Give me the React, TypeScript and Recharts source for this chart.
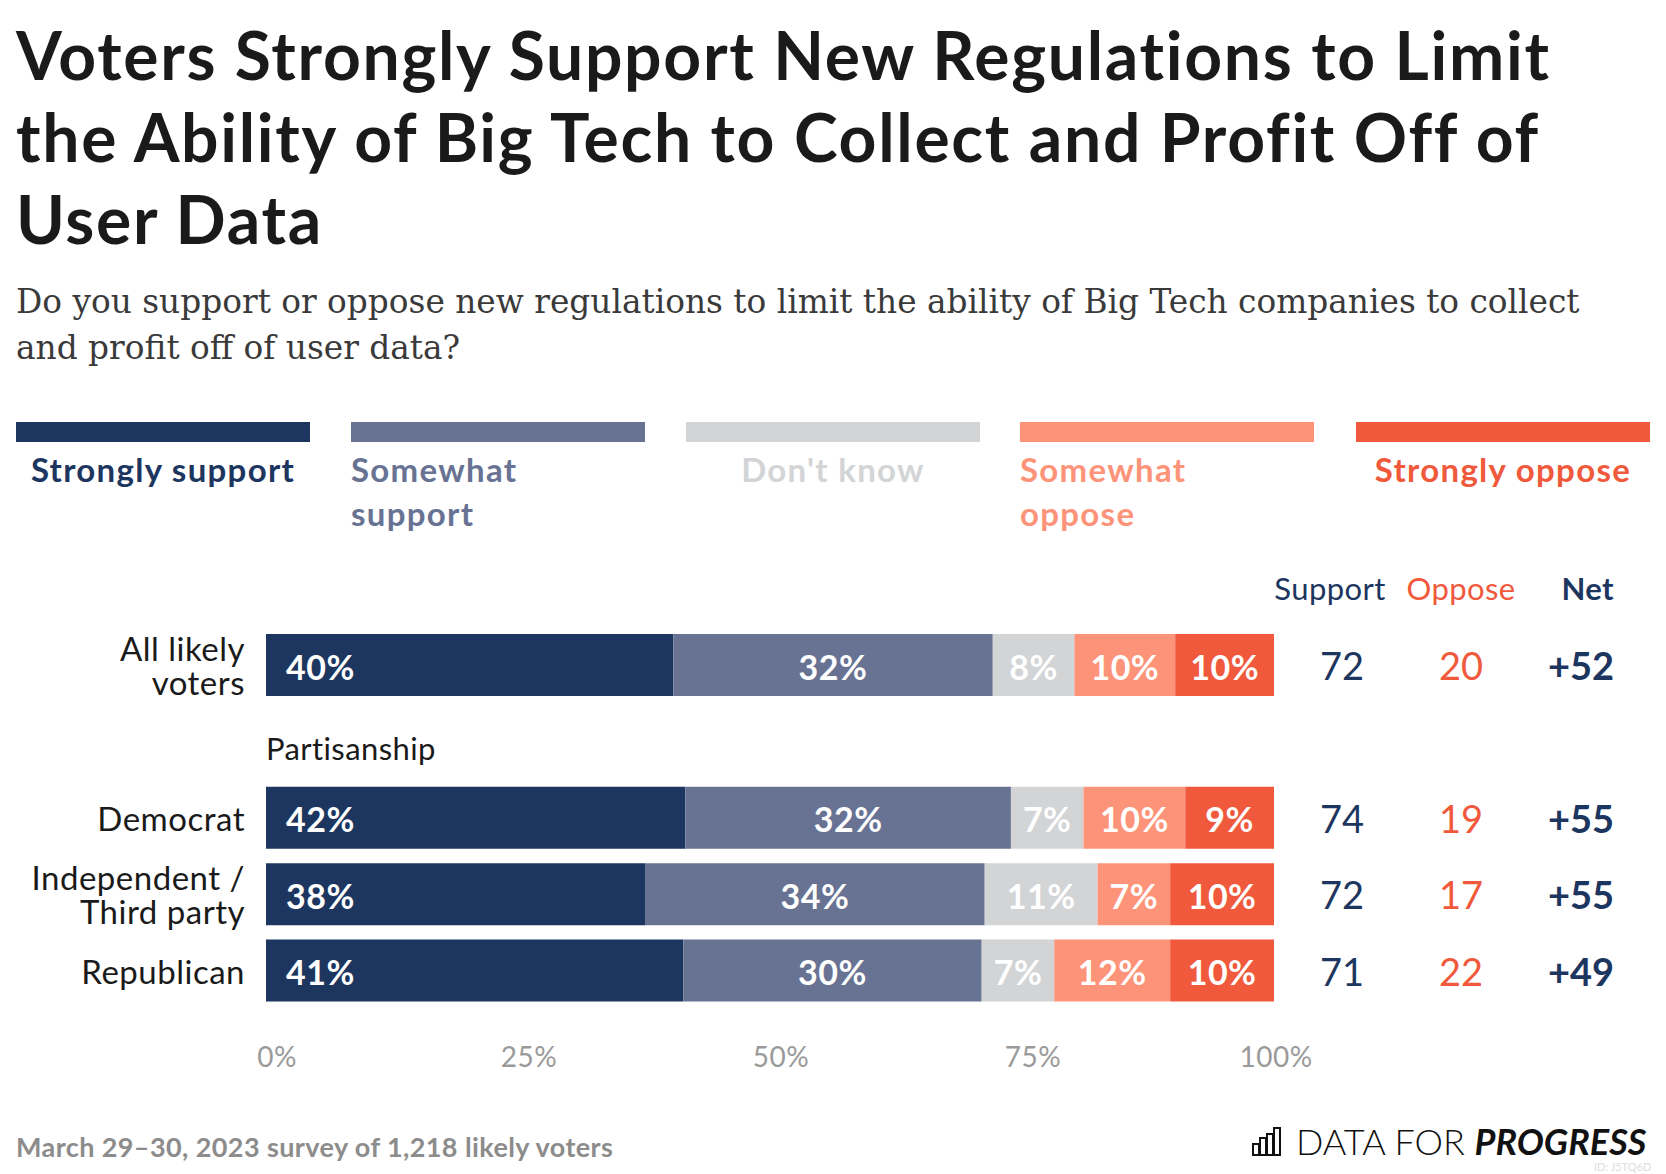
import React from 'react';
import { BarChart, Bar, XAxis, YAxis, LabelList } from 'recharts';

const categories = ['All likely voters', 'Partisanship', 'Democrat', 'Independent / Third party', 'Republican'];
const seriesNames = ['Strongly support', 'Somewhat support', "Don't know", 'Somewhat oppose', 'Strongly oppose'];
const seriesColors = ['#1d365f', '#687394', '#d3d4d6', '#fd9378', '#f0593c'];
const stronglySupport = [40.4, null, 41.6, 37.6, 41.4];
const somewhatSupport = [31.7, null, 32.3, 33.7, 29.6];
const dontKnow = [8.1, null, 7.2, 11.2, 7.2];
const somewhatOppose = [10.0, null, 10.1, 7.2, 11.5];
const stronglyOppose = [9.8, null, 8.8, 10.3, 10.3];
const supportTotals = [72, null, 74, 72, 71];
const opposeTotals = [20, null, 19, 17, 22];
const netValues = ['+52', '', '+55', '+55', '+49'];
const xTicks = [0, 25, 50, 75, 100];
const groupHeaders = ['Partisanship'];
// legend labels that break onto two lines in the original
const wrappedLegend = ['Somewhat support', 'Somewhat oppose'];

const seriesValues = [stronglySupport, somewhatSupport, dontKnow, somewhatOppose, stronglyOppose];
const data = categories.map((name, i) => {
  const row: any = { name };
  seriesValues.forEach((vals, s) => { row['s' + s] = vals[i]; });
  return row;
});

const FONT = 'Lato, "Open Sans", sans-serif';
const W = 1666;
const H = 1174;
const PLOT_LEFT = 266;
const PLOT_RIGHT = 1274;
const PLOT_TOP = 627;
const PLOT_BOTTOM = 1009;

const wrap = (text: string, max: number) => {
  const lines: string[] = [];
  let cur = '';
  text.split(' ').forEach((w) => {
    if (cur && (cur + ' ' + w).length > max) { lines.push(cur); cur = w; }
    else cur = cur ? cur + ' ' + w : w;
  });
  if (cur) lines.push(cur);
  return lines;
};

const LeftTick = (props: any) => {
  const { y, payload } = props;
  const label = String(payload.value);
  if (groupHeaders.includes(label)) {
    return (
      <text x={PLOT_LEFT} y={y + 6} fontSize={31} letterSpacing={0.4} fill="#1a1a1a" fontFamily={FONT} textAnchor="start" dominantBaseline="central">
        {label}
      </text>
    );
  }
  const lines = wrap(label, 13);
  const lh = 34;
  const start = y - ((lines.length - 1) * lh) / 2;
  return (
    <text x={PLOT_LEFT - 21} fontSize={33} letterSpacing={0.5} fill="#1a1a1a" fontFamily={FONT} textAnchor="end" dominantBaseline="central">
      {lines.map((l, i) => (
        <tspan key={i} x={PLOT_LEFT - 21} y={start + i * lh}>{l}</tspan>
      ))}
    </text>
  );
};

const RightTick = (props: any) => {
  const { y, payload } = props;
  const i = payload.index;
  if (supportTotals[i] == null) return <g />;
  return (
    <g fontFamily={FONT} fontSize={38}>
      <text x={PLOT_RIGHT + 68} y={y} fill="#1d365f" textAnchor="middle" dominantBaseline="central">{supportTotals[i]}</text>
      <text x={PLOT_RIGHT + 187} y={y} fill="#f0593c" textAnchor="middle" dominantBaseline="central">{opposeTotals[i]}</text>
      <text x={PLOT_RIGHT + 340} y={y} fill="#1d365f" fontWeight={700} textAnchor="end" dominantBaseline="central">{netValues[i]}</text>
    </g>
  );
};

const BottomTick = (props: any) => {
  const { x, y, payload } = props;
  const shift = payload.value === 100 ? 2 : 11;
  return (
    <text x={x + shift} y={y + 39} fontSize={28} letterSpacing={0.5} fill="#9a9a9a" fontFamily={FONT} textAnchor="middle" dominantBaseline="central">
      {payload.value + '%'}
    </text>
  );
};

const makeLabel = (first: boolean) => (props: any) => {
  const { x, y, width, height, value } = props;
  if (value == null) return null;
  return (
    <text
      x={first ? x + 20 : x + width / 2}
      y={y + height / 2 + 1}
      fill="#fff"
      fontSize={34}
      fontWeight={700}
      letterSpacing={0.5}
      fontFamily={FONT}
      textAnchor={first ? 'start' : 'middle'}
      dominantBaseline="central"
    >
      {Math.round(value) + '%'}
    </text>
  );
};

const LEGEND_X = [16, 351, 686, 1020, 1356];
const LEGEND_W = 294;

export default function App() {
  return (
    <div style={{ position: 'absolute', left: 0, top: 0, width: W, height: H, background: '#fff', fontFamily: FONT, overflow: 'hidden' }}>
      <div style={{ position: 'absolute', left: 16, top: 14, fontSize: 66, fontWeight: 700, letterSpacing: 1.7, lineHeight: '82px', color: '#1a1a1a', whiteSpace: 'nowrap' }}>
        <div>Voters Strongly Support New Regulations to Limit</div>
        <div>the Ability of Big Tech to Collect and Profit Off of</div>
        <div>User Data</div>
      </div>
      <div style={{ position: 'absolute', left: 16, top: 279, fontSize: 32.8, lineHeight: '46px', color: '#3a3a3a', fontFamily: '"DejaVu Serif", serif', whiteSpace: 'nowrap' }}>
        <div>Do you support or oppose new regulations to limit the ability of Big Tech companies to collect</div>
        <div>and profit off of user data?</div>
      </div>
      {seriesNames.map((n, i) => {
        const wrapped = wrappedLegend.includes(n);
        return (
          <div key={n} style={{ position: 'absolute', left: LEGEND_X[i], top: 422, width: LEGEND_W }}>
            <div style={{ height: 20, background: seriesColors[i] }} />
            <div style={{ marginTop: 5, fontSize: 33, fontWeight: 700, letterSpacing: 1.3, lineHeight: '44px', color: seriesColors[i], textAlign: wrapped ? 'left' : 'center', whiteSpace: 'pre-line' }}>
              {wrapped ? n.replace(' ', '\n') : n}
            </div>
          </div>
        );
      })}
      <div style={{ position: 'absolute', top: 569, left: PLOT_RIGHT, width: 392, height: 40, fontSize: 31, letterSpacing: 0.4 }}>
        <div style={{ position: 'absolute', left: 56, width: 0, display: 'flex', justifyContent: 'center', color: '#1d365f' }}><span>Support</span></div>
        <div style={{ position: 'absolute', left: 187, width: 0, display: 'flex', justifyContent: 'center', color: '#f0593c' }}><span>Oppose</span></div>
        <div style={{ position: 'absolute', right: 52, color: '#1d365f', fontWeight: 700 }}>Net</div>
      </div>
      <div style={{ position: 'absolute', left: 0, top: 0 }}>
        <BarChart
          width={W}
          height={H}
          data={data}
          layout="vertical"
          barSize={62}
          margin={{ top: PLOT_TOP, right: 0, bottom: H - PLOT_BOTTOM - 40, left: 16 }}
        >
          <XAxis type="number" domain={[0, 100]} ticks={xTicks} axisLine={false} tickLine={false} tick={<BottomTick />} height={40} interval={0} />
          <YAxis yAxisId="left" type="category" dataKey="name" width={PLOT_LEFT - 16} axisLine={false} tickLine={false} tick={<LeftTick />} interval={0} />
          <YAxis yAxisId="right" orientation="right" type="category" dataKey="name" width={W - PLOT_RIGHT} axisLine={false} tickLine={false} tick={<RightTick />} interval={0} />
          {seriesNames.map((n, i) => (
            <Bar key={n} yAxisId="left" dataKey={'s' + i} name={n} stackId="a" fill={seriesColors[i]} isAnimationActive={false}>
              <LabelList dataKey={'s' + i} content={makeLabel(i === 0)} />
            </Bar>
          ))}
        </BarChart>
      </div>
      <div style={{ position: 'absolute', left: 16, top: 1130, fontSize: 27, fontWeight: 700, letterSpacing: 0.4, color: '#8c8c8c' }}>
        March 29–30, 2023 survey of 1,218 likely voters
      </div>
      <div style={{ position: 'absolute', left: 1252, top: 1119, display: 'flex', alignItems: 'center', whiteSpace: 'nowrap' }}>
        <svg width={30} height={30} viewBox="0 0 30 30" style={{ marginRight: 14 }}>
          <rect x={1} y={18} width={6} height={11} fill="none" stroke="#111" strokeWidth={2} />
          <rect x={8} y={12} width={6} height={17} fill="none" stroke="#111" strokeWidth={2} />
          <rect x={15} y={8} width={6} height={21} fill="none" stroke="#111" strokeWidth={2} />
          <rect x={22} y={2} width={6} height={27} fill="none" stroke="#111" strokeWidth={2} />
        </svg>
        <span style={{ fontSize: 36, fontWeight: 300, color: '#111' }}>DATA FOR&nbsp;</span>
        <span style={{ fontSize: 36, fontWeight: 700, fontStyle: 'italic', color: '#111' }}>PROGRESS</span>
      </div>
      <div style={{ position: 'absolute', left: 1594, top: 1160, fontSize: 11, color: '#ddd' }}>ID: J5TQ6D</div>
    </div>
  );
}
